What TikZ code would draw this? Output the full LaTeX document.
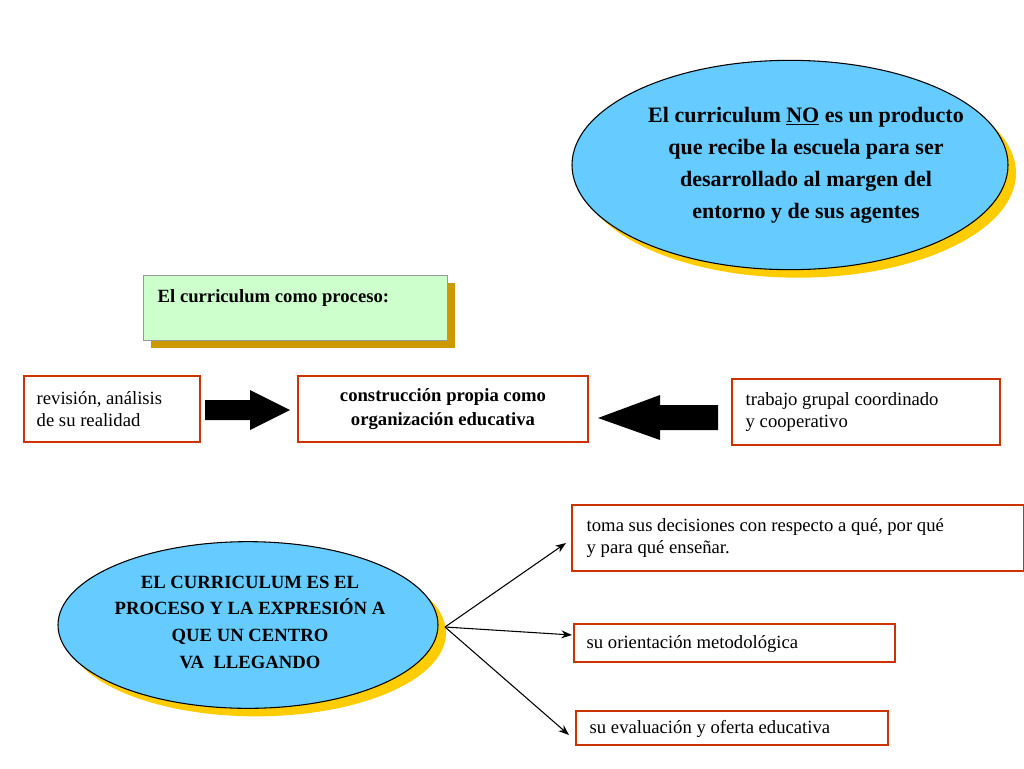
\documentclass[tikz,border=0pt]{standalone}
\usepackage{fontspec}
\setmainfont{Liberation Serif}
\usetikzlibrary{shapes.geometric,arrows.meta}
\definecolor{sky}{HTML}{66CCFF}
\definecolor{shad}{HTML}{FFCC00}
\definecolor{gshad}{HTML}{CC9900}
\definecolor{lgreen}{HTML}{CCFFCC}
\definecolor{rbord}{HTML}{CC3300}
\tikzset{
 ell/.style={ellipse,draw=black,fill=sky,line width=0.8pt,inner sep=0pt},
 ellsh/.style={ellipse,fill=shad,draw=none,inner sep=0pt},
 rbox/.style={draw=rbord,line width=0.8pt,fill=white},
 txt/.style={font=\fontsize{14}{17}\selectfont,align=left},
 btxt/.style={font=\bfseries\fontsize{14}{18}\selectfont,align=center},
 conn/.style={-{Stealth[length=8pt,width=6pt]},line width=0.8pt},
 blockarrow/.style={fill=black}
}
\begin{document}
\begin{tikzpicture}[x=0.75pt,y=-0.75pt]
\useasboundingbox (0,0) rectangle (1024,768);
% top ellipse
\node[ellsh,minimum width=327pt,minimum height=157pt] at (798,173) {};
\node[ell,minimum width=327pt,minimum height=157pt] (top) at (790,165) {};
\node[btxt,font=\bfseries\fontsize{16.5}{24}\selectfont] at (806,165) {El curriculum \underline{NO} es un producto\\que recibe la escuela para ser\\desarrollado al margen del\\entorno y de sus agentes};
% green box
\fill[gshad] (151,283) rectangle (455,348);
\draw[fill=lgreen,draw=black!40] (143,275) rectangle (447,340);
\node[btxt,anchor=north west] (gb) at (153,285) {El curriculum como proceso:};
% middle row
\draw[rbox] (24,376) rectangle (200,442);
\node[txt,anchor=west] (rev) at (32,409) {revisión, análisis\\de su realidad};
\draw[rbox] (298,376) rectangle (588,442);
\node[btxt] (mid) at (443,409) {construcción propia como\\organización educativa};
\draw[rbox] (732,379) rectangle (1000,445);
\node[txt,anchor=west] (trab) at (741,412) {trabajo grupal coordinado\\y cooperativo};
\fill[blockarrow] (205,400) -- (250,400) -- (250,390) -- (290,410) -- (250,430) -- (250,420) -- (205,420) -- cycle;
\fill[blockarrow] (718,405) -- (660,405) -- (660,395) -- (598,418) -- (660,440) -- (660,430) -- (718,430) -- cycle;
% bottom ellipse
\node[ellsh,minimum width=285pt,minimum height=125pt] at (256,633) {};
\node[ell,minimum width=285pt,minimum height=125pt] (bot) at (248,625) {};
\node[btxt,font=\bfseries\fontsize{14}{20}\selectfont] at (250,622) {EL CURRICULUM ES EL\\PROCESO Y LA EXPRESIÓN A\\QUE UN CENTRO\\VA\ \ LLEGANDO};
\coordinate (o) at (445,627);
% right boxes
\draw[rbox] (572,505) rectangle (1024,571);
\node[txt,anchor=west] (b1) at (582,538) {toma sus decisiones con respecto a qué, por qué\\y para qué enseñar.};
\draw[rbox] (574,624) rectangle (895,662);
\node[txt,anchor=west] (b2) at (582,644) {su orientación metodológica};
\draw[rbox] (576,711) rectangle (888,745);
\node[txt,anchor=west] (b3) at (585,729) {su evaluación y oferta educativa};
\coordinate (t1) at (566,543);
\coordinate (t2) at (572,635);
\coordinate (t3) at (569,735);
\draw[conn] (o) -- (t1);
\draw[conn] (o) -- (t2);
\draw[conn] (o) -- (t3);
\end{tikzpicture}
\end{document}
